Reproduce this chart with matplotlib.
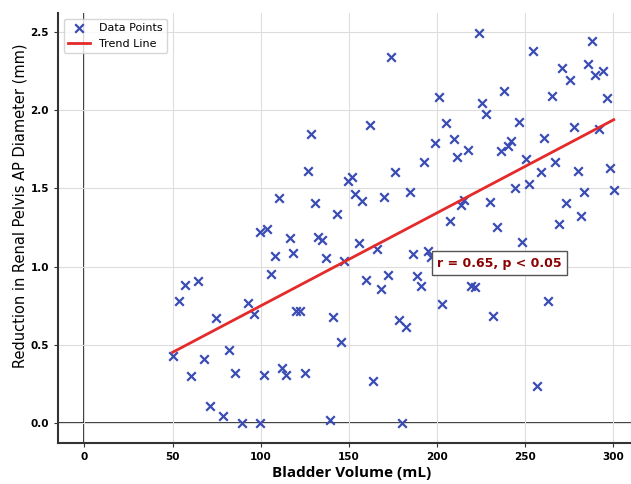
import numpy as np
import matplotlib

matplotlib.use("Agg")
import matplotlib.pyplot as plt

# bladder volume (mL) and reduction in renal pelvis AP diameter (mm)
volume = [50.0, 53.6, 56.9, 60.6, 64.2, 67.6, 71.3, 74.8, 78.5, 81.8,
          85.6, 89.3, 92.7, 96.4, 99.8, 99.8, 101.8, 103.8, 106.0, 108.3,
          110.1, 112.0, 114.5, 116.4, 118.3, 120.2, 122.4, 124.9, 126.6, 128.7,
          131.0, 132.4, 134.9, 137.0, 139.1, 141.2, 143.2, 145.3, 147.2, 149.3,
          151.5, 153.4, 155.5, 157.6, 159.7, 161.7, 163.8, 165.7, 168.0, 169.8,
          172.1, 174.0, 176.3, 178.2, 180.3, 182.3, 184.4, 186.3, 188.5, 190.6,
          192.6, 194.6, 196.7, 199.0, 201.0, 202.7, 205.2, 207.1, 209.4, 211.2,
          213.5, 215.2, 217.5, 219.4, 221.7, 223.7, 225.6, 227.9, 229.9, 231.9,
          233.9, 236.0, 238.1, 240.1, 242.2, 244.3, 246.2, 248.3, 250.6, 252.4,
          254.5, 256.4, 258.8, 260.8, 262.8, 265.0, 266.8, 269.0, 271.0, 273.0,
          275.3, 277.6, 279.7, 281.5, 283.4, 285.7, 287.8, 289.7, 291.9, 294.0,
          296.3, 298.0, 300.2]
reduction = [0.43, 0.78, 0.88, 0.30, 0.91, 0.41, 0.11, 0.67, 0.05, 0.47,
             0.32, 0.00, 0.77, 0.70, 0.00, 1.22, 0.31, 1.24, 0.955, 1.066,
             1.44, 0.353, 0.31, 1.184, 1.085, 0.72, 0.72, 0.323, 1.61, 1.848,
             1.408, 1.19, 1.17, 1.055, 0.021, 0.676, 1.338, 0.519, 1.036, 1.546,
             1.57, 1.465, 1.153, 1.419, 0.915, 1.902, 0.27, 1.11, 0.855, 1.444,
             0.948, 2.336, 1.602, 0.659, 0.00, 0.617, 1.478, 1.08, 0.94, 0.876,
             1.666, 1.10, 1.06, 1.787, 2.082, 0.761, 1.918, 1.289, 1.816, 1.70,
             1.393, 1.425, 1.746, 0.878, 0.868, 2.493, 2.048, 1.972, 1.412, 0.687,
             1.251, 1.736, 2.12, 1.772, 1.80, 1.502, 1.925, 1.157, 1.687, 1.525,
             2.376, 0.24, 1.602, 1.819, 0.78, 2.089, 1.666, 1.272, 2.267, 1.404,
             2.189, 1.893, 1.608, 1.323, 1.48, 2.293, 2.442, 2.227, 1.878, 2.25,
             2.078, 1.631, 1.489]
stats_label = "r = 0.65, p < 0.05"

x = np.array(volume)
y = np.array(reduction)
slope, intercept = np.polyfit(x, y, 1)
xfit = np.array([x.min(), x.max()])

fig = plt.figure(figsize=(6.31, 4.84), dpi=100)
ax = fig.add_axes([0.092, 0.085, 0.908, 0.8875])

ax.grid(True, color="#dddddd", lw=0.8, zorder=0)
ax.axhline(0, color="black", lw=1.1, zorder=1)
ax.axvline(0, color="black", lw=1.1, zorder=1)

ax.scatter(x, y, marker="x", s=38, linewidths=1.6, color="#3a4cb4",
           label="Data Points", zorder=3)
ax.plot(xfit, slope * xfit + intercept, color="#e42a2a", lw=2,
        label="Trend Line", zorder=4)

ax.text(200, 1.0, stats_label, fontsize=9, fontweight="bold", color="#8b0000",
        bbox=dict(facecolor="white", edgecolor="#555555", lw=1), zorder=5)

# the source image is cropped on the right, so the axes end at x=310
ax.set_xlim(-15, 310)
ax.set_xticks([0, 50, 100, 150, 200, 250, 300])
ax.set_yticks([0.0, 0.5, 1.0, 1.5, 2.0, 2.5])
for side in ("top", "right"):
    ax.spines[side].set_visible(False)
for side in ("left", "bottom"):
    ax.spines[side].set_color("#333333")
    ax.spines[side].set_linewidth(1.5)
ax.tick_params(labelsize=7.5, length=3, color="#333333")
for lbl in ax.get_xticklabels() + ax.get_yticklabels():
    lbl.set_fontweight("bold")

ax.set_xlabel("Bladder Volume (mL)", fontsize=11, fontweight="bold",
              family="Open Sans")
ax.set_ylabel("Reduction in Renal Pelvis AP Diameter (mm)", fontsize=10.5)
ax.xaxis.set_label_coords(0.513, -0.055)
ax.yaxis.set_label_coords(-0.053, 0.551)
ax.legend(loc="upper left", fontsize=8)

fig.savefig("out.png", dpi=100)
